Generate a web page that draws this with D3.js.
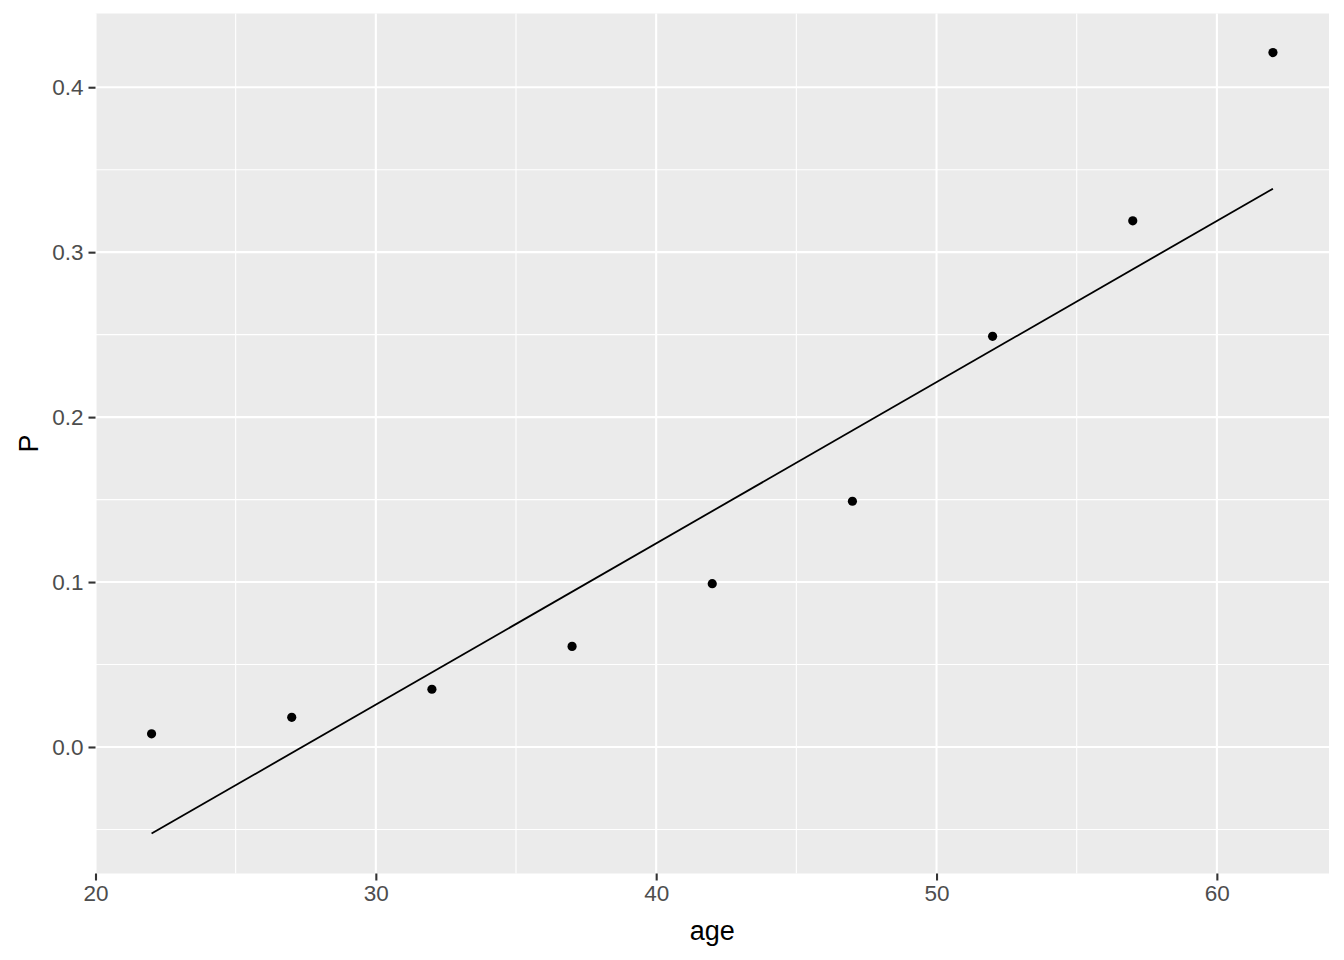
<!DOCTYPE html>
<html>
<head>
<meta charset="utf-8">
<script src="https://cdn.jsdelivr.net/npm/d3@7"></script>
<style>
  html, body { margin: 0; padding: 0; background: #fff; }
  svg { display: block; font-family: "Liberation Sans", Arial, sans-serif; }
</style>
</head>
<body>
<svg id="chart" width="1344" height="960"></svg>
<script>
// Data
const ages = [22, 27, 32, 37, 42, 47, 52, 57, 62];
const pValues = [0.008, 0.018, 0.035, 0.061, 0.099, 0.149, 0.249, 0.319, 0.421];
const lineAges = [22, 62];
const lineValues = [-0.0525, 0.3385];
const xTicks = [20, 30, 40, 50, 60];
const xMinor = [25, 35, 45, 55];
const yTicks = [0.0, 0.1, 0.2, 0.3, 0.4];
const yMinor = [-0.05, 0.05, 0.15, 0.25, 0.35];

const svg = d3.select("#chart");
const panel = { left: 95.5, right: 1329, top: 13.5, bottom: 873.5 };

const x = d3.scaleLinear().domain([20, 64]).range([panel.left, panel.right]);
const y = d3.scaleLinear().domain([-0.0767, 0.4447]).range([panel.bottom, panel.top]);

// Panel background
svg.append("rect")
  .attr("x", panel.left).attr("y", panel.top)
  .attr("width", panel.right - panel.left).attr("height", panel.bottom - panel.top)
  .attr("fill", "#EBEBEB");

const grid = svg.append("g");
// minor grid
grid.selectAll(".xminor").data(xMinor).join("line")
  .attr("x1", d => x(d)).attr("x2", d => x(d))
  .attr("y1", panel.top).attr("y2", panel.bottom)
  .attr("stroke", "#fff").attr("stroke-width", 1.1);
grid.selectAll(".yminor").data(yMinor).join("line")
  .attr("class", "yminor")
  .attr("y1", d => y(d)).attr("y2", d => y(d))
  .attr("x1", panel.left).attr("x2", panel.right)
  .attr("stroke", "#fff").attr("stroke-width", 1.1);
// major grid
grid.selectAll(".xmajor").data(xTicks).join("line")
  .attr("class", "xmajor")
  .attr("x1", d => x(d)).attr("x2", d => x(d))
  .attr("y1", panel.top).attr("y2", panel.bottom)
  .attr("stroke", "#fff").attr("stroke-width", 2.1);
grid.selectAll(".ymajor").data(yTicks).join("line")
  .attr("class", "ymajor")
  .attr("y1", d => y(d)).attr("y2", d => y(d))
  .attr("x1", panel.left).attr("x2", panel.right)
  .attr("stroke", "#fff").attr("stroke-width", 2.1);

// Axes
const xAxis = d3.axisBottom(x).tickValues(xTicks).tickSize(7).tickPadding(5).tickFormat(d3.format("d"));
const yAxis = d3.axisLeft(y).tickValues(yTicks).tickSize(7).tickPadding(5).tickFormat(d3.format(".1f"));

const gx = svg.append("g").attr("transform", `translate(0,${panel.bottom})`).call(xAxis);
const gy = svg.append("g").attr("transform", `translate(${panel.left},0)`).call(yAxis);
[gx, gy].forEach(g => {
  g.select(".domain").remove();
  g.selectAll(".tick line").attr("stroke", "#333333").attr("stroke-width", 2.1);
  g.selectAll(".tick text").attr("fill", "#4D4D4D").attr("font-size", "22.5px")
    .attr("font-family", "'Liberation Sans', Arial, sans-serif");
});

// Fitted line
const line = d3.line().x(d => x(d[0])).y(d => y(d[1]));
svg.append("path")
  .datum(lineAges.map((a, i) => [a, lineValues[i]]))
  .attr("d", line)
  .attr("fill", "none").attr("stroke", "#000").attr("stroke-width", 1.8);

// Points
svg.append("g").selectAll("circle").data(ages.map((a, i) => [a, pValues[i]])).join("circle")
  .attr("cx", d => x(d[0])).attr("cy", d => y(d[1])).attr("r", 4.6)
  .attr("fill", "#000");

// Axis titles
svg.append("text")
  .attr("x", (panel.left + panel.right) / 2).attr("y", 940)
  .attr("text-anchor", "middle").attr("font-size", "27px").attr("fill", "#000")
  .text("age");
svg.append("text")
  .attr("transform", `translate(38,${(panel.top + panel.bottom) / 2}) rotate(-90)`)
  .attr("text-anchor", "middle").attr("font-size", "27px").attr("fill", "#000")
  .text("P");
</script>
</body>
</html>
